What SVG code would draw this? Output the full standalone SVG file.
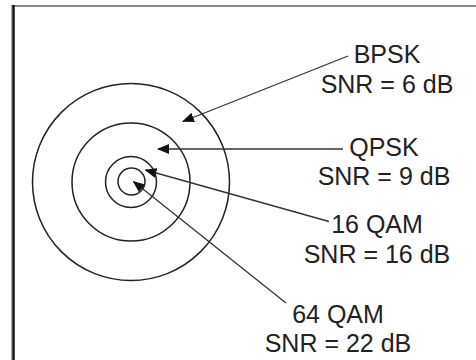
<svg xmlns="http://www.w3.org/2000/svg" width="476" height="360" viewBox="0 0 476 360">
<defs>
<marker id="ah" markerWidth="12" markerHeight="10" refX="11" refY="5" orient="auto" markerUnits="userSpaceOnUse">
<path d="M0,0 L12,5 L0,10 Z" fill="#111"/>
</marker>
<style>
.ring{fill:none;stroke:#222;stroke-width:1.5}
.conn{fill:none;stroke:#333;stroke-width:1.3;marker-end:url(#ah)}
text{font-family:"Liberation Sans",Arial,sans-serif;font-size:25px;fill:#222;text-anchor:middle}
</style>
</defs>
<rect width="476" height="360" fill="#fff"/>
<g id="frame">
<line x1="12" y1="6" x2="476" y2="6" stroke="#8a8a8a" stroke-width="2"/>
<line x1="13.5" y1="5" x2="13.5" y2="360" stroke="#111" stroke-width="2.5"/>
<line x1="11.5" y1="5" x2="11.5" y2="360" stroke="#aaa" stroke-width="1"/>
</g>
<g id="rings">
<circle class="ring" cx="131" cy="182" r="98.5"/>
<circle class="ring" cx="131" cy="182" r="59"/>
<circle class="ring" cx="131" cy="182" r="25.5"/>
<circle class="ring" cx="131.5" cy="181.5" r="13.5"/>
</g>
<g id="connectors">
<line class="conn" x1="348" y1="56" x2="183" y2="121.5"/>
<line class="conn" x1="343" y1="149" x2="158" y2="149"/>
<line class="conn" x1="329" y1="221.5" x2="145.5" y2="170"/>
<line class="conn" x1="286" y1="303" x2="133.5" y2="181.5"/>
</g>
<g id="bpsk"><text x="387" y="63">BPSK</text><text x="387" y="93">SNR = 6 dB</text></g>
<g id="qpsk"><text x="384" y="156">QPSK</text><text x="384" y="185">SNR = 9 dB</text></g>
<g id="qam16"><text x="377" y="233">16 QAM</text><text x="377" y="263">SNR = 16 dB</text></g>
<g id="qam64"><text x="338" y="323">64 QAM</text><text x="338" y="351.5">SNR = 22 dB</text></g>
</svg>
